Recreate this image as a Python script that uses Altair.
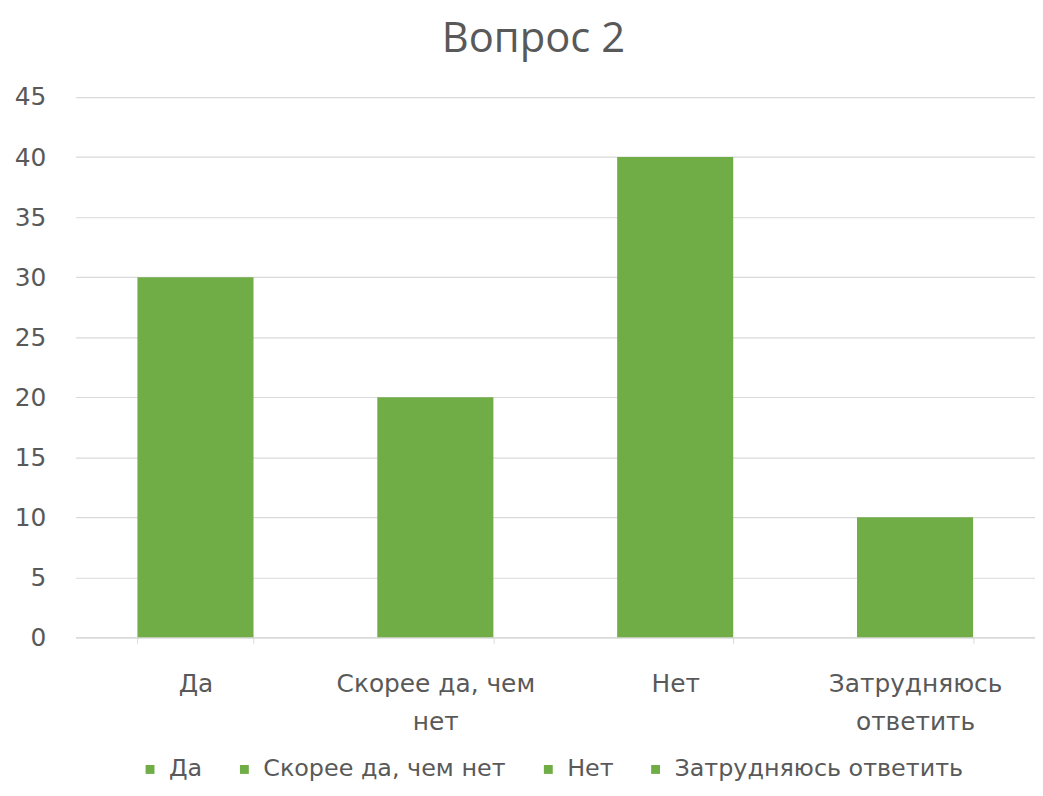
import altair as alt
import pandas as pd

categories = ["Да", "Скорее да, чем нет", "Нет", "Затрудняюсь ответить"]
values = [30, 20, 40, 10]
wrapped = {
    "Скорее да, чем нет": ["Скорее да, чем", "нет"],
    "Затрудняюсь ответить": ["Затрудняюсь", "ответить"],
}
y_ticks = [0, 5, 10, 15, 20, 25, 30, 35, 40, 45]

df = pd.DataFrame({"cat": categories, "val": values})

GREEN = "#70AD47"
TXT = "#595959"
GRID = "#D9D9D9"
TFONT = "Open Sans"
FONT = "DejaVu Sans"
FS = 25

label_expr = " : ".join(
    [f"datum.value == '{k}' ? {v!r}" for k, v in wrapped.items()] + ["datum.value"]
)

chart = alt.Chart(df).mark_bar(color=GREEN).encode(
    x=alt.X(
        "cat:N",
        sort=categories,
        scale=alt.Scale(paddingInner=0.516, paddingOuter=0.258),
        axis=alt.Axis(
            title=None,
            labelAngle=0,
            labelExpr=label_expr,
            labelFont=FONT,
            labelFontSize=FS,
            labelColor=TXT,
            labelPadding=29,
            labelLineHeight=38,
            labelBaseline="top",
            labelLimit=0,
            tickBand="extent",
            tickSize=6,
            tickColor=GRID,
            domainColor=GRID,
            domainWidth=1.5,
        ),
    ),
    y=alt.Y(
        "val:Q",
        scale=alt.Scale(domain=[0, 45]),
        axis=alt.Axis(
            title=None,
            values=y_ticks,
            grid=True,
            gridColor=GRID,
            gridWidth=1.2,
            domain=False,
            ticks=False,
            labelFont=FONT,
            labelFontSize=FS,
            labelColor=TXT,
            labelPadding=30,
        ),
    ),
    color=alt.Color(
        "cat:N",
        sort=categories,
        scale=alt.Scale(domain=categories, range=[GREEN] * 4),
        legend=alt.Legend(
            title=None,
            orient="none",
            direction="horizontal",
            legendX=63,
            legendY=665,
            symbolType="square",
            symbolSize=80,
            symbolStrokeWidth=0,
            labelFont=FONT,
            labelFontSize=24,
            labelColor=TXT,
            labelLimit=0,
            labelOffset=7,
            columnPadding=30,
        ),
    ),
).properties(
    width=966,
    height=544,
    title=alt.TitleParams(
        "Вопрос 2",
        font=TFONT,
        fontSize=42,
        fontWeight="normal",
        color=TXT,
        anchor="middle",
        offset=24,
        dx=-22,
    ),
    autosize=alt.AutoSizeParams(type="none"),
    padding={"left": 68, "top": 87, "right": 0, "bottom": 149},
).configure_view(stroke=None)

chart.save("out.html", embed_options={"renderer": "svg", "actions": False})
